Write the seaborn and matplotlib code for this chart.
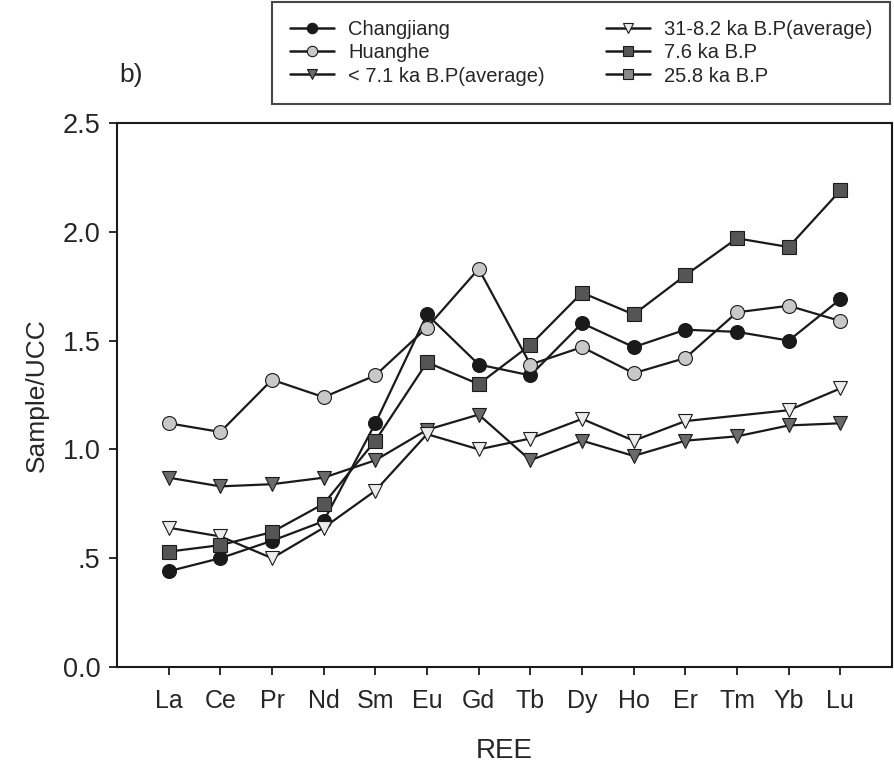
import numpy as np
import pandas as pd
import matplotlib
matplotlib.use("Agg")
import matplotlib.pyplot as plt
import seaborn as sns
from matplotlib.lines import Line2D

elements = ["La", "Ce", "Pr", "Nd", "Sm", "Eu", "Gd", "Tb", "Dy", "Ho", "Er", "Tm", "Yb", "Lu"]

changjiang = [0.44, 0.50, 0.58, 0.67, 1.12, 1.62, 1.39, 1.34, 1.58, 1.47, 1.55, 1.54, 1.50, 1.69]
huanghe    = [1.12, 1.08, 1.32, 1.24, 1.34, 1.56, 1.83, 1.39, 1.47, 1.35, 1.42, 1.63, 1.66, 1.59]
lt71_avg   = [0.87, 0.83, 0.84, 0.87, 0.95, 1.09, 1.16, 0.95, 1.04, 0.97, 1.04, 1.06, 1.11, 1.12]
k31_82_avg = [0.64, 0.60, 0.50, 0.64, 0.81, 1.07, 1.00, 1.05, 1.14, 1.04, 1.13, np.nan, 1.18, 1.28]
k76        = [0.53, 0.56, 0.62, 0.75, 1.04, 1.40, 1.30, 1.48, 1.72, 1.62, 1.80, 1.97, 1.93, 2.19]
k258       = [np.nan] * 14

series_names = ["Changjiang", "Huanghe", "< 7.1 ka B.P(average)",
                "31-8.2 ka B.P(average)", "7.6 ka B.P", "25.8 ka B.P"]
series_values = [changjiang, huanghe, lt71_avg, k31_82_avg, k76, k258]
markers = ["o", "o", "v", "v", "s", "s"]
faces = ["#1a1a1a", "#c8c8c8", "#6a6a6a", "#ececec", "#555555", "#8a8a8a"]

yticks = [0.0, 0.5, 1.0, 1.5, 2.0, 2.5]
ytick_labels = ["0.0", ".5", "1.0", "1.5", "2.0", "2.5"]

sns.set_theme(style="white")
plt.rcParams["font.family"] = ["Liberation Sans", "DejaVu Sans"]

fig = plt.figure(figsize=(8.94, 7.76), dpi=100)
ax = fig.add_axes([0.1309, 0.1405, 0.8669, 0.7010])

handles = []
for name, vals, mk, fc in zip(series_names, series_values, markers, faces):
    df = pd.DataFrame({"pos": np.arange(len(elements)), "val": vals}).dropna()
    if len(df):
        sns.lineplot(data=df, x="pos", y="val", ax=ax, color="#1a1a1a", lw=1.6,
                     marker=mk, markersize=10, markerfacecolor=fc,
                     markeredgecolor="#1a1a1a", markeredgewidth=0.8,
                     errorbar=None, sort=False)
    handles.append(Line2D([], [], color="#1a1a1a", lw=1.8, marker=mk, markersize=7.5,
                          markerfacecolor=fc, markeredgecolor="#1a1a1a",
                          markeredgewidth=0.8, label=name))

ax.set_xlim(-1, 14)
ax.set_ylim(0, 2.5)
ax.set_xticks(np.arange(len(elements)))
ax.set_xticklabels(elements, fontsize=18)
ax.set_yticks(yticks)
ax.set_yticklabels(ytick_labels, fontsize=19.5)
ax.tick_params(axis="both", direction="out", length=6, width=1.3, color="#1a1a1a",
               bottom=True, left=True, top=False, right=False, pad=6)
ax.tick_params(axis="x", pad=10)
for sp in ax.spines.values():
    sp.set_color("#1a1a1a")
    sp.set_linewidth(1.5)
ax.set_xlabel("REE", fontsize=20, labelpad=18)
ax.set_ylabel("Sample/UCC", fontsize=19, labelpad=10)

fig.text(0.134, 0.903, "b)", fontsize=19, ha="left", va="center")

leg = fig.legend(handles=handles, ncol=2, loc="upper left",
                 bbox_to_anchor=(0.304, 0.997, 0.692, 0.0), bbox_transform=fig.transFigure,
                 mode="expand", fontsize=14.5, frameon=True, fancybox=False,
                 edgecolor="#1a1a1a", handlelength=2.2, handletextpad=0.7,
                 labelspacing=0.2, borderpad=0.9, columnspacing=1.5, borderaxespad=0)
leg.get_frame().set_linewidth(1.5)

fig.savefig("out.png", dpi=100)
